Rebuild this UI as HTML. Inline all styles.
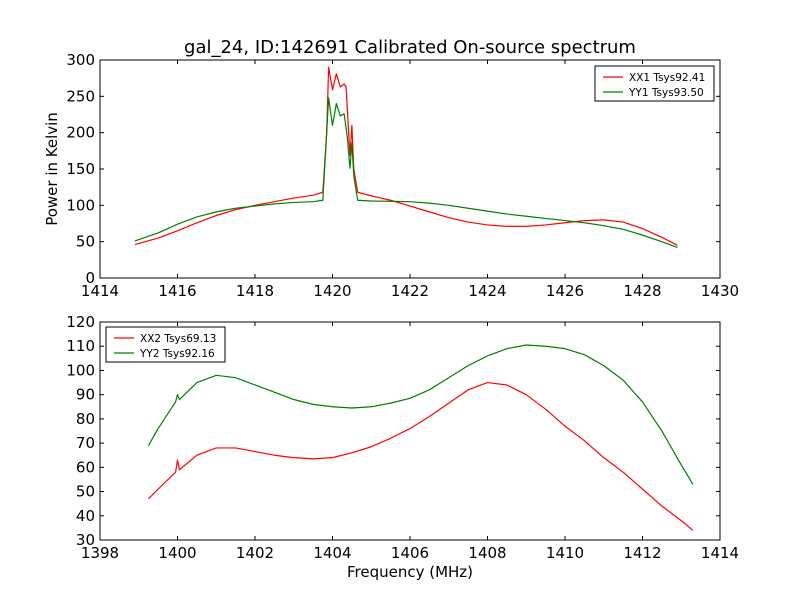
<!DOCTYPE html>
<html><head><meta charset="utf-8"><style>
body{margin:0;background:#fff;font-family:"Liberation Sans","DejaVu Sans",sans-serif;}
svg text{font-family:"DejaVu Sans","Liberation Sans",sans-serif;}
</style></head><body>
<svg id="c" width="800" height="600" xmlns="http://www.w3.org/2000/svg">
<rect width="800" height="600" fill="#fff"/>
<text x="410" y="53" font-size="18" text-anchor="middle">gal_24, ID:142691 Calibrated On-source spectrum</text>
<text x="410" y="577" font-size="15" text-anchor="middle">Frequency (MHz)</text>
<text transform="translate(57,169) rotate(-90)" font-size="15" text-anchor="middle">Power in Kelvin</text>
</svg>
<script>
const topFreqRed=[1414.9,1415.5,1416,1416.5,1417,1417.5,1418,1418.5,1419,1419.5,1419.75,1419.85,1419.9,1420.0,1420.1,1420.2,1420.3,1420.35,1420.45,1420.5,1420.55,1420.65,1421,1421.5,1422,1422.5,1423,1423.5,1424,1424.5,1425,1425.5,1426,1426.5,1427,1427.5,1428,1428.5,1428.9];
const topValRed=[46,55,65,76,86,94,100,105,110,114,118,200,290,259,281,263,267,263,169,210,150,118,113,107,99,91,83,77,73,71,71,73,76,79,80,77,68,56,45];
const topFreqGreen=[1414.9,1415.5,1416,1416.5,1417,1417.5,1418,1418.5,1419,1419.5,1419.75,1419.85,1419.9,1420.0,1420.1,1420.2,1420.3,1420.38,1420.45,1420.5,1420.55,1420.65,1421,1422,1422.5,1423,1423.5,1424,1424.5,1425,1425.5,1426,1426.5,1427,1427.5,1428,1428.5,1428.9];
const topValGreen=[51,62,74,84,91,96,99,102,104,105,107,200,248,210,240,223,226,195,151,186,140,107,106,105,103,100,96,92,88,85,82,79,76,72,67,59,50,42];
const botFreqRed=[1399.25,1399.5,1399.95,1400,1400.05,1400.5,1401,1401.5,1402,1402.5,1403,1403.5,1404,1404.5,1405,1405.5,1406,1406.5,1407,1407.5,1408,1408.5,1409,1409.5,1410,1410.5,1411,1411.5,1412,1412.5,1413,1413.3];
const botValRed=[47,51,58,63,59,65,68,68,66.5,65,64,63.5,64,66,68.5,72,76,81,86.5,92,95,94,90,84,77,71,64,58,51,44,38,34];
const botFreqGreen=[1399.25,1399.5,1399.95,1400,1400.05,1400.5,1401,1401.5,1402,1402.5,1403,1403.5,1404,1404.5,1405,1405.5,1406,1406.5,1407,1407.5,1408,1408.5,1409,1409.5,1410,1410.5,1411,1411.5,1412,1412.5,1413,1413.3];
const botValGreen=[69,76,87,90,88,95,98,97,94,91,88,86,85,84.5,85,86.5,88.5,92,97,102,106,109,110.5,110,109,106.5,102,96,87,75,61,53];
const topXTicks=[1414,1416,1418,1420,1422,1424,1426,1428,1430];
const topYTicks=[0,50,100,150,200,250,300];
const botXTicks=[1398,1400,1402,1404,1406,1408,1410,1412,1414];
const botYTicks=[30,40,50,60,70,80,90,100,110,120];

const NS="http://www.w3.org/2000/svg";
const svg=document.getElementById('c');
function mk(tag,attrs,parent){const e=document.createElementNS(NS,tag);for(const k in attrs)e.setAttribute(k,attrs[k]);(parent||svg).appendChild(e);return e;}

function panel(name,box,xd,yd,xt,yt,series,legend){
  const g=mk('g',{});
  
  
  const sx=v=>box.x+(v-xd[0])/(xd[1]-xd[0])*box.w;
  const sy=v=>box.y+box.h-(v-yd[0])/(yd[1]-yd[0])*box.h;
  series.forEach(s=>{
    const pts=s.f.map((f,i)=>sx(f).toFixed(2)+','+sy(s.v[i]).toFixed(2)).join(' ');
    const p=mk('polyline',{points:pts,fill:'none',stroke:s.color,'stroke-width':1.2,'stroke-linejoin':'round'},g);
    
    
  });
  const fr=mk('rect',{x:box.x,y:box.y,width:box.w,height:box.h,fill:'none',stroke:'#000','stroke-width':1},g);
  
  
  xt.forEach(t=>{
    const x=sx(t);
    mk('line',{x1:x,x2:x,y1:box.y+box.h,y2:box.y+box.h-4,stroke:'#000'},g);
    mk('line',{x1:x,x2:x,y1:box.y,y2:box.y+4,stroke:'#000'},g);
    const tx=mk('text',{x:x,y:box.y+box.h+18,'font-size':15,'text-anchor':'middle'},g);
    tx.textContent=t;
    
    
  });
  yt.forEach(t=>{
    const y=sy(t);
    mk('line',{x1:box.x,x2:box.x+4,y1:y,y2:y,stroke:'#000'},g);
    mk('line',{x1:box.x+box.w,x2:box.x+box.w-4,y1:y,y2:y,stroke:'#000'},g);
    const tx=mk('text',{x:box.x-5,y:y+5,'font-size':15,'text-anchor':'end'},g);
    tx.textContent=t;
    
    
  });
  const lg=mk('g',{},g);
  
  
  mk('rect',{x:legend.x,y:legend.y,width:legend.w,height:35,fill:'#fff',stroke:'#000'},lg);
  series.forEach((s,i)=>{
    const y=legend.y+11+i*15;
    mk('line',{x1:legend.x+8,x2:legend.x+28,y1:y,y2:y,stroke:s.color,'stroke-width':1.2},lg);
    const tx=mk('text',{x:legend.x+34,y:y+4,'font-size':10.5},lg);
    tx.textContent=s.label;
    
    
  });
}
panel('top',{x:100,y:60,w:620,h:218},[1414,1430],[0,300],topXTicks,topYTicks,
 [{f:topFreqRed,v:topValRed,color:'#ff0000',name:'xx1-line',label:'XX1 Tsys92.41'},
  {f:topFreqGreen,v:topValGreen,color:'#008000',name:'yy1-line',label:'YY1 Tsys93.50'}],
 {x:595,y:66,w:119});
panel('bottom',{x:100,y:322,w:620,h:218},[1398,1414],[30,120],botXTicks,botYTicks,
 [{f:botFreqRed,v:botValRed,color:'#ff0000',name:'xx2-line',label:'XX2 Tsys69.13'},
  {f:botFreqGreen,v:botValGreen,color:'#008000',name:'yy2-line',label:'YY2 Tsys92.16'}],
 {x:106,y:327,w:119});
</script>
</body></html>
